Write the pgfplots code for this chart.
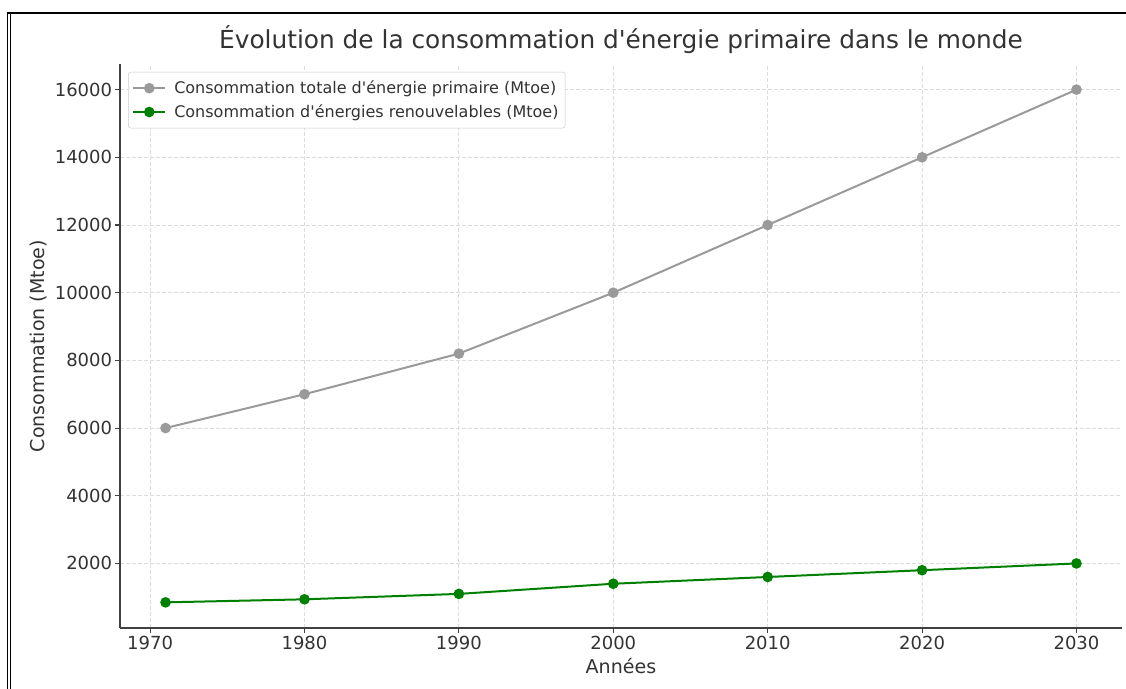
\documentclass[border=0pt]{standalone}
\usepackage{fontspec}
\setmainfont{DejaVu Sans}[Ligatures=TeXOff]
\usepackage{pgfplots}
\pgfplotsset{compat=1.18}

\definecolor{txt}{HTML}{333333}
\definecolor{totgray}{HTML}{9A9A9A}
\definecolor{mplgreen}{HTML}{008000}
\definecolor{gridc}{HTML}{DCDCDC}

\begin{document}
\begin{tikzpicture}
% 1px = 0.75pt, axis box at origin
\useasboundingbox (-90pt,-45pt) rectangle (754.5pt,471pt);
\fill[white] (-90pt,-45pt) rectangle (754.5pt,471pt);
\draw[line width=1pt] (-84.5pt,-46pt) -- (-84.5pt,462pt);
\draw[line width=1pt] (-82pt,-46pt) -- (-82pt,461.25pt);
\draw[line width=1pt] (-85pt,461.25pt) -- (756pt,461.25pt);

\begin{axis}[
  scale only axis,
  width=751.5pt, height=423pt,
  at={(0,0)}, anchor=south west,
  xmin=1968.05, xmax=2032.95,
  ymin=92.5, ymax=16757.5,
  axis x line*=bottom, axis y line*=left,
  axis line style={black!75, line width=0.9pt},
  xtick={1970,1980,...,2030},
  ytick={2000,4000,...,16000},
  scaled y ticks=false,
  yticklabel={\pgfmathprintnumber[fixed,precision=0]{\tick}},
  tick align=outside, major tick length=3.75pt,
  tick style={black!75, line width=0.8pt},
  /pgf/number format/1000 sep={},
  /pgf/number format/assume math mode=true,
  ticklabel style={font=\fontsize{13.5}{16}\selectfont, text=txt, inner sep=2pt},
  grid=major,
  major grid style={gridc, dash pattern=on 3pt off 1.5pt, line width=0.6pt},
  title={Évolution de la consommation d'énergie primaire dans le monde},
  title style={font=\fontsize{18.6}{22}\selectfont, text=txt,
    at={(axis description cs:0.5,1.0124)}, anchor=base},
  xlabel={Années},
  ylabel={Consommation (Mtoe)},
  label style={font=\fontsize{14.3}{17}\selectfont, text=txt},
  xlabel style={at={(axis description cs:0.5,-0.0798)}, anchor=base},
  ylabel style={at={(axis description cs:-0.0749,0.5)}, anchor=base},
  legend style={at={(axis description cs:0.008,0.986)}, anchor=north west,
    draw=black!20, rounded corners=2pt, fill=white,
    font=\fontsize{12}{14}\selectfont, text=txt,
    row sep=2.75pt, inner xsep=3pt, inner ysep=4.5pt,
    /tikz/every odd column/.append style={column sep=4pt}},
  legend cell align=left,
  legend image code/.code={
    \draw[mark repeat=2, mark phase=2, #1]
      plot coordinates {(0pt,0pt) (12pt,0pt) (24pt,0pt)};},
]

\addplot[totgray, line width=1.5pt, mark=*, mark size=3.2pt,
  mark options={solid, fill=totgray, draw=totgray}]
coordinates {
(1971,6000)
(1980,7000)
(1990,8200)
(2000,10000)
(2010,12000)
(2020,14000)
(2030,16000)
};
\addlegendentry{Consommation totale d'énergie primaire (Mtoe)}

\addplot[mplgreen, line width=1.5pt, mark=*, mark size=3.2pt,
  mark options={solid, fill=mplgreen, draw=mplgreen}]
coordinates {
(1971,850)
(1980,940)
(1990,1100)
(2000,1400)
(2010,1600)
(2020,1800)
(2030,2000)
};
\addlegendentry{Consommation d'énergies renouvelables (Mtoe)}

\end{axis}
\end{tikzpicture}
\end{document}
